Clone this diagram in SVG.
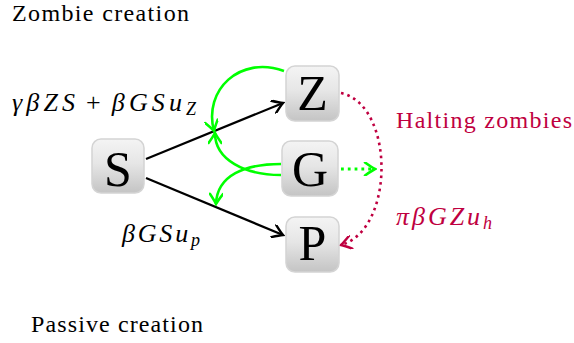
<svg xmlns="http://www.w3.org/2000/svg" width="574" height="343" viewBox="0 0 574 343">
<style>
.box{fill:url(#gr);stroke:#d4d4d4;stroke-width:1.5}
.nl{font-family:"Liberation Serif",serif;font-size:50px;fill:#000;text-anchor:middle}
.t{font-family:"Liberation Serif",serif;font-size:24px;fill:#000}
.m{font-family:"Liberation Serif",serif;font-size:26px;font-style:italic;fill:#000}
.red{fill:#bf0040}
.blk{fill:none;stroke:#000;stroke-width:2.2}
.grn{fill:none;stroke:#00ff00;stroke-width:2.6}
.gdot{fill:none;stroke:#00ff00;stroke-width:2.8;stroke-dasharray:2.8 4}
.rdot{fill:none;stroke:#bf0040;stroke-width:2.6;stroke-dasharray:2.6 4}
</style>
<defs>
<linearGradient id="gr" x1="0" y1="0" x2="0" y2="1">
<stop offset="0" stop-color="#f4f4f4"/>
<stop offset="0.45" stop-color="#e6e6e6"/>
<stop offset="1" stop-color="#c4c4c4"/>
</linearGradient>
<marker id="ab" markerWidth="14" markerHeight="14" viewBox="-12 -7 14 14" refX="0" refY="0" orient="auto" markerUnits="userSpaceOnUse">
<path d="M-10,-6.5 Q-3,-1.5 0,0 Q-3,1.5 -10,6.5" fill="none" stroke="#000" stroke-width="2.4" stroke-linecap="round"/>
</marker>
<marker id="ag" markerWidth="14" markerHeight="14" viewBox="-12 -7 14 14" refX="0" refY="0" orient="auto" markerUnits="userSpaceOnUse">
<path d="M-10,-6.5 Q-3,-1.5 0,0 Q-3,1.5 -10,6.5" fill="none" stroke="#00ff00" stroke-width="2.6" stroke-linecap="round"/>
</marker>
<marker id="ar" markerWidth="14" markerHeight="14" viewBox="-12 -7 14 14" refX="0" refY="0" orient="auto" markerUnits="userSpaceOnUse">
<path d="M-10,-6.5 Q-3,-1.5 0,0 Q-3,1.5 -10,6.5" fill="none" stroke="#bf0040" stroke-width="2.4" stroke-linecap="round"/>
</marker>
</defs>
<rect width="574" height="343" fill="#fff"/>

<g id="label-zombie"><text class="t" x="12" y="21" textLength="177" lengthAdjust="spacing">Zombie creation</text></g>
<g id="label-passive"><text class="t" x="31" y="332" textLength="172" lengthAdjust="spacing">Passive creation</text></g>
<g id="label-halting"><text class="t red" x="396" y="128" textLength="176" lengthAdjust="spacing">Halting zombies</text></g>

<g id="label-sz"><text class="m" x="12" y="111" textLength="184" lengthAdjust="spacing">γβZS<tspan font-style="normal" dx="7">+</tspan><tspan dx="7">βGSu</tspan><tspan style="font-size:18px" dy="4">Z</tspan></text></g>
<g id="label-sp"><text class="m" x="122" y="242" textLength="78" lengthAdjust="spacing">βGSu<tspan style="font-size:18px" dy="4">p</tspan></text></g>
<g id="label-h"><text class="m red" x="396" y="225" textLength="96" lengthAdjust="spacing">πβGZu<tspan style="font-size:18px" dy="4">h</tspan></text></g>

<g id="connectors">
<path class="blk" d="M146,159 L283,103" marker-end="url(#ab)"/>
<path class="blk" d="M146,178 L283,235" marker-end="url(#ab)"/>
<path class="grn" d="M284,71 C240,55 203,90 214,131" marker-end="url(#ag)"/>
<path class="grn" d="M281,175 C245,175 215,160 215,133" marker-end="url(#ag)"/>
<path class="grn" d="M281,164 C245,164 217,175 216,204" marker-end="url(#ag)"/>
<path class="gdot" d="M341,169 L375,169" marker-end="url(#ag)"/>
<path class="rdot" d="M341,93 C395,105 395,230 341,245" marker-end="url(#ar)"/>
</g>

<g id="node-S">
<rect class="box" x="92" y="139" width="52" height="54" rx="9"/>
<text class="nl" x="118" y="186">S</text>
</g>
<g id="node-Z">
<rect class="box" x="286" y="66" width="53" height="55" rx="9"/>
<text class="nl" x="312.5" y="110">Z</text>
</g>
<g id="node-G">
<rect class="box" x="282" y="141" width="56" height="55" rx="9"/>
<text class="nl" x="310" y="186">G</text>
</g>
<g id="node-P">
<rect class="box" x="286" y="217" width="53" height="55" rx="9"/>
<text class="nl" x="312.5" y="260">P</text>
</g>
</svg>
